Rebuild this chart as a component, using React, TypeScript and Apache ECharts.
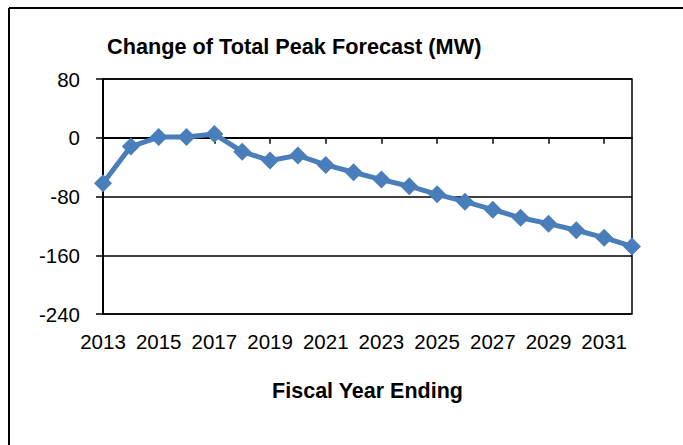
import React, { useEffect, useRef } from "react";
import * as echarts from "echarts";

const years = [
  "2013", "2014", "2015", "2016", "2017", "2018", "2019", "2020", "2021", "2022",
  "2023", "2024", "2025", "2026", "2027", "2028", "2029", "2030", "2031", "2032",
];
const peakChange = [
  -62, -12, 1, 1, 5, -19, -31, -24, -37, -47,
  -57, -66, -77, -87, -98, -109, -117, -126, -136, -148,
];
const yTicks = [80, 0, -80, -160, -240];

const chartTitle = "Change of Total Peak Forecast (MW)";
const xTitle = "Fiscal Year Ending";
const FONT = "'Liberation Sans', Arial, sans-serif";

export default function App() {
  const ref = useRef<HTMLDivElement>(null);
  useEffect(() => {
    if (!ref.current) return;
    const chart = echarts.init(ref.current, null, { renderer: "svg" });
    chart.setOption({
      animation: false,
      backgroundColor: "#ffffff",
      title: {
        text: chartTitle,
        left: 102,
        top: 30,
        textStyle: { fontFamily: FONT, fontSize: 21.7, fontWeight: "bold", color: "#000" },
      },
      graphic: [
        { type: "line", shape: { x1: 9, y1: 8, x2: 683, y2: 8 }, style: { stroke: "#000", lineWidth: 2 } },
        { type: "line", shape: { x1: 9, y1: 8, x2: 9, y2: 445 }, style: { stroke: "#000", lineWidth: 2 } },
      ],
      grid: {
        left: 103,
        right: 51,
        top: 79,
        bottom: 131,
        show: true,
        borderColor: "#000",
        borderWidth: 1.5,
        backgroundColor: "#fff",
      },
      xAxis: {
        type: "category",
        data: years,
        boundaryGap: false,
        name: xTitle,
        nameLocation: "middle",
        nameGap: 66,
        nameTextStyle: { fontFamily: FONT, fontSize: 21.5, fontWeight: "bold", color: "#000", verticalAlign: "top" },
        axisLine: { lineStyle: { color: "#000", width: 2 } },
        axisTick: { show: true, interval: 1, length: 6, lineStyle: { color: "#000", width: 1.5 } },
        axisLabel: { interval: 1, margin: 17, fontFamily: FONT, fontSize: 20.5, color: "#000" },
        splitLine: { show: false },
      },
      yAxis: {
        type: "value",
        min: yTicks[yTicks.length - 1],
        max: yTicks[0],
        interval: 80,
        axisLine: { show: true, lineStyle: { color: "#000", width: 2 } },
        axisTick: { show: true, length: 7, lineStyle: { color: "#000", width: 1.5 } },
        axisLabel: { margin: 23, fontFamily: FONT, fontSize: 20.5, color: "#000" },
        splitLine: { show: true, lineStyle: { color: "#000", width: 1.5 } },
      },
      series: [
        {
          type: "line",
          data: peakChange,
          symbol: "diamond",
          symbolSize: 18,
          showAllSymbol: true,
          lineStyle: { color: "#4A7EBB", width: 5 },
          itemStyle: { color: "#4A7EBB" },
          z: 5,
        },
      ],
    });
    return () => chart.dispose();
  }, []);
  return (
    <div
      ref={ref}
      style={{ position: "fixed", left: 0, top: 0, width: 683, height: 445, background: "#fff" }}
    />
  );
}
